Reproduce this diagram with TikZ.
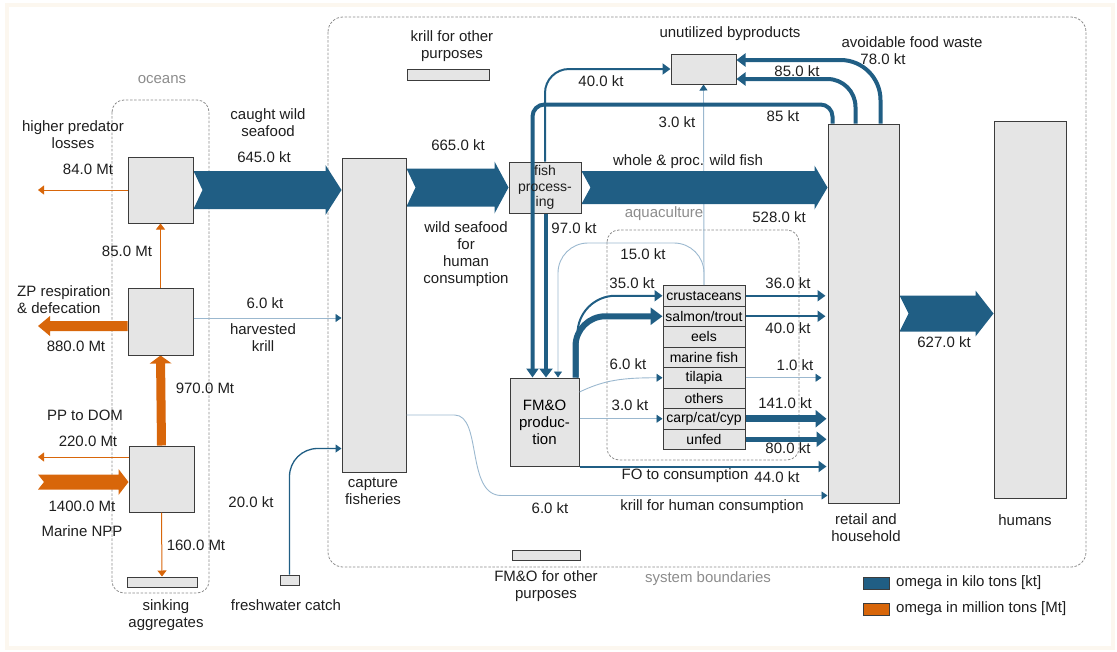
\documentclass[tikz,border=0pt]{standalone}
\usepackage{fontspec}
\setmainfont{Liberation Sans}
\usetikzlibrary{calc,arrows.meta}
\pgfdeclarelayer{bg}
\pgfsetlayers{bg,main}
\definecolor{flowblue}{RGB}{32,94,132}
\definecolor{lightflow}{RGB}{155,184,207}
\definecolor{floworange}{RGB}{216,102,10}
\definecolor{boxfill}{RGB}{229,229,229}
\definecolor{boxline}{RGB}{60,60,60}
\definecolor{dashgray}{RGB}{140,140,140}
\definecolor{txt}{RGB}{30,30,30}
\definecolor{framecream}{RGB}{252,247,239}
\newcommand{\fatflow}[7][flowblue]{%
  \coordinate (fa) at (#2);
  \coordinate (fb) at (#3);
  \coordinate (fh) at ($(fb)!#6!(fa)$);
  \fill[#1] ($(fa)!#4!90:(fb)$) -- ($(fh)!#4!-90:(fa)$) -- ($(fh)!#5!-90:(fa)$) -- (fb)
    -- ($(fh)!#5!90:(fa)$) -- ($(fh)!#4!90:(fa)$) -- ($(fa)!#4!-90:(fb)$) -- ($(fa)!#7!(fb)$) -- cycle;
}
\tikzset{
  boxn/.style={draw=boxline,fill=boxfill,line width=1pt,inner sep=0pt},
  lbl/.style={font=\fontsize{15}{17}\selectfont,align=center,inner sep=0pt,text=txt},
  glbl/.style={lbl,text=dashgray},
  bound/.style={draw=dashgray,line width=0.8pt,dash pattern=on 2.5pt off 1.6pt,rounded corners=12pt},
  othin/.style={draw=floworange,line width=1pt,-{Triangle[length=6pt,width=9pt]}},
  lthin/.style={draw=lightflow,line width=0.9pt,-{Triangle[length=6pt,width=8pt,color=flowblue]}},
  bflow/.style={draw=flowblue,-{Triangle[length=8pt,width=11pt]}}
}
\begin{document}
\begin{tikzpicture}[x=1pt,y=-1pt]
\useasboundingbox (0,0) rectangle (1117,651);
\draw[framecream,line width=4pt] (7,5) rectangle (1113,648);

\node[boxn,minimum width=65,minimum height=66] (hp) at (160.5,190) {};
\node[boxn,minimum width=65,minimum height=67] (zp) at (160.5,321.5) {};
\node[boxn,minimum width=65,minimum height=66] (pp) at (161.5,479) {};
\node[boxn,minimum width=70,minimum height=10] (sink) at (162,582) {};
\node[boxn,minimum width=19,minimum height=10] (fresh) at (289.5,580) {};
\node[boxn,minimum width=64,minimum height=314] (capture) at (374,315) {};
\node[boxn,minimum width=82,minimum height=11] (krillbar) at (448,74.5) {};
\node[boxn,minimum width=72,minimum height=51] (fishproc) at (545,187.5) {};
\node[boxn,minimum width=65,minimum height=30] (unut) at (703.5,69) {};
\node[boxn,minimum width=69,minimum height=88,align=center,font=\fontsize{15}{17}\selectfont] (fmo) at (544.5,422) {FM\&O\\produc-\\tion};
\node[boxn,minimum width=68,minimum height=10] (fmobar) at (546,555) {};
\node[boxn,minimum width=71,minimum height=379] (retail) at (863.5,313.5) {};
\node[boxn,minimum width=72,minimum height=377] (humans) at (1030,309.5) {};
\foreach \t [count=\i] in {crustaceans,salmon/trout,eels,marine fish,tilapia,others,carp/cat/cyp,unfed}{
  \node[boxn,minimum width=82,minimum height=20.5,anchor=north,font=\fontsize{14}{15}\selectfont] (a\i) at (704,{285+(\i-1)*20.5}) {\t};
}

\coordinate (e84) at (38,190);
\coordinate (e880) at (38,326);
\coordinate (e220) at (38,457);
\coordinate (s1400) at (38,482);
\coordinate (kz) at ($(zp.east)+(0,-3.5)$);
\coordinate (kc) at ($(capture.east)+(0,100)$);
\coordinate (kr) at ($(retail.south west)+(0,-8)$);

\begin{pgfonlayer}{bg}
\draw[bound] (112,100) rectangle (209,593);
\draw[bound,rounded corners=15pt] (328,17) rectangle (1086,567);
\draw[bound] (607,230) rectangle (799,460);
\draw[lthin] (a1.north) -- (unut.south);
\fatflow{hp.east}{capture.west |- hp.east}{19pt}{25pt}{16pt}{9pt}
\fatflow{capture.east |- fishproc.west}{fishproc.west}{19pt}{26pt}{14pt}{9pt}
\fatflow{fishproc.east}{retail.west |- fishproc.east}{16.5pt}{22pt}{13pt}{9pt}
\fatflow{retail.east}{humans.west |- retail.east}{18pt}{23pt}{18pt}{9pt}
\fatflow[floworange]{pp.north}{zp.south}{4.5pt}{11pt}{8pt}{0pt}
\fatflow[floworange]{$(zp.west)+(0,4.5)$}{e880}{5pt}{10pt}{12pt}{0pt}
\fatflow[floworange]{s1400}{$(pp.west)+(0,3)$}{7.5pt}{13pt}{10pt}{6pt}
\end{pgfonlayer}

\draw[othin] (hp.west) -- (e84);
\draw[othin] (zp.north) -- (hp.south);
\draw[othin] ($(pp.west)+(0,-22)$) -- (e220);
\draw[othin] (pp.south) -- (sink.north);

\draw[lthin] (kz) -- (capture.west |- kz);
\draw[lthin] (kc) -- ++(48,0) .. controls +(28,0) and ($(kr)+(-362,0)$) .. ($(kr)+(-326,0)$) -- (kr);
\draw[flowblue,line width=1.3pt,rounded corners=28pt,-{Triangle[length=6pt,width=8pt]}] (fresh.north) |- ($(capture.south west)+(0,-24)$);
\draw[lthin,rounded corners=30pt] (a1.north) -- ++(0,-42) -| ($(fmo.north)+(13.5,0)$);
\draw[lthin] ($(fmo.east)+(0,-30)$) .. controls +(25,-12) and +(-40,0) .. (a5.west);
\draw[lthin] (fmo.east |- a7.west) -- (a7.west);
\draw[lthin,shorten >=6pt] (a5.east) -- (retail.west |- a5.east);

\draw[bflow,line width=4pt,rounded corners=12pt,-{Triangle[length=9pt,width=12pt]}] ($(retail.north west)+(5,0)$) -- ++(0,-19) -| ($(fmo.north west)+(23,0)$);
\draw[bflow,line width=2pt,rounded corners=24pt] (fishproc.north) |- (unut.west);
\draw[bflow,line width=4.5pt,-{Triangle[length=9pt,width=13pt]}] ($(fishproc.south)+(1,0)$) -- ($(fmo.north)+(1.5,0)$);
\draw[bflow,line width=4pt,rounded corners=28pt,-{Triangle[length=9pt,width=13pt]}] ($(retail.north west)+(28,0)$) |- ($(unut.east)+(0,10)$);
\draw[bflow,line width=4pt,rounded corners=40pt,-{Triangle[length=9pt,width=13pt]}] ($(retail.north west)+(53,0)$) |- ($(unut.east)+(0,-9)$);
\draw[bflow,line width=2pt,rounded corners=38pt] ($(fmo.north east)+(-2,0)$) |- (a1.west);
\draw[bflow,line width=6pt,rounded corners=30pt,-{Triangle[length=12pt,width=17pt]}] ($(fmo.north east)+(-4,0)$) |- (a2.west);
\draw[bflow,line width=2pt,shorten >=2pt] (a1.east) -- (retail.west |- a1.east);
\draw[bflow,line width=2pt,shorten >=2pt] (a2.east) -- (retail.west |- a2.east);
\draw[bflow,line width=7pt,shorten >=1pt,-{Triangle[length=11pt,width=17pt]}] (a7.east) -- (retail.west |- a7.east);
\draw[bflow,line width=5pt,shorten >=1pt,-{Triangle[length=10pt,width=15pt]}] (a8.east) -- (retail.west |- a8.east);
\draw[bflow,line width=2pt,shorten >=1pt] (fmo.south east) -- (retail.west |- fmo.south east);

\node[lbl,font=\fontsize{14}{15.5}\selectfont] (lfish) at (fishproc.center) {fish\\process-\\ing};
\node[glbl] (loceans) at (162,80) {oceans};
\node[lbl] (lhpl) at (73,135) {higher predator\\losses};
\node[lbl] (l84) at (88,169) {84.0 Mt};
\node[lbl] (lcaught) at (268,123) {caught wild\\seafood};
\node[lbl] (l645) at (264,157) {645.0 kt};
\node[lbl] (l85mt) at (127,251) {85.0 Mt};
\node[lbl,anchor=west,align=left] (lzp) at (17,300) {ZP respiration\\\& defecation};
\node[lbl] (l880) at (76,346) {880.0 Mt};
\node[lbl] (l6krill) at (265,303) {6.0 kt};
\node[lbl] (lharv) at (263,338) {harvested\\krill};
\node[lbl] (l970) at (205,388) {970.0 Mt};
\node[lbl] (lppdom) at (85,415) {PP to DOM};
\node[lbl] (l220) at (88,441) {220.0 Mt};
\node[lbl] (l1400) at (82,506) {1400.0 Mt};
\node[lbl] (lnpp) at (82,531) {Marine NPP};
\node[lbl] (l160) at (196,545) {160.0 Mt};
\node[lbl] (lsink) at (166,615) {sinking\\aggregates};
\node[lbl] (l20) at (251,502) {20.0 kt};
\node[lbl] (lfresh) at (286,605) {freshwater catch};
\node[lbl] (lcapture) at (373,491) {capture\\fisheries};
\node[lbl] (lkrillo) at (452,46) {krill for other\\purposes};
\node[lbl] (l665) at (458,145) {665.0 kt};
\node[lbl] (lwild) at (466,254) {wild seafood\\for\\human\\consumption};
\node[lbl] (l97) at (574,228) {97.0 kt};
\node[lbl] (l40a) at (601,81) {40.0 kt};
\node[lbl] (l3a) at (677,122) {3.0 kt};
\node[lbl] (lunut) at (730,34) {unutilized byproducts};
\node[lbl] (lavoid) at (912,42) {avoidable food waste};
\node[lbl] (l78) at (883,59) {78.0 kt};
\node[lbl] (l85a) at (797,71) {85.0 kt};
\node[lbl] (l85b) at (783,116) {85 kt};
\node[lbl] (lwhole) at (688,162) {whole \& proc. wild fish};
\node[lbl] (l528) at (779,217) {528.0 kt};
\node[glbl] (laqua) at (664,214) {aquaculture};
\node[lbl] (l15) at (643,254) {15.0 kt};
\node[lbl] (l35) at (632,283) {35.0 kt};
\node[lbl] (l36) at (788,283) {36.0 kt};
\node[lbl] (l40b) at (788,328) {40.0 kt};
\node[lbl] (l6b) at (628,364) {6.0 kt};
\node[lbl] (l1) at (795,365) {1.0 kt};
\node[lbl] (l3b) at (630,405) {3.0 kt};
\node[lbl] (l141) at (785,403) {141.0 kt};
\node[lbl] (l80) at (788,448) {80.0 kt};
\node[lbl] (lfo) at (685,476) {FO to consumption};
\node[lbl] (l44) at (777,477) {44.0 kt};
\node[lbl] (lkrillh) at (712,507) {krill for human consumption};
\node[lbl] (l6c) at (550,508) {6.0 kt};
\node[lbl] (l627) at (944,342) {627.0 kt};
\node[lbl] (lretail) at (866,528) {retail and\\household};
\node[lbl] (lhumans) at (1025,520) {humans};
\node[lbl] (lfmoo) at (546,586) {FM\&O for other\\purposes};
\node[glbl] (lsys) at (708,579) {system boundaries};
\node[boxn,fill=flowblue,minimum width=26,minimum height=12] (legkt) at (876,583) {};
\node[lbl,anchor=west] (legkttext) at (896,583) {omega in kilo tons [kt]};
\node[boxn,fill=floworange,minimum width=26,minimum height=12] (legmt) at (876,609) {};
\node[lbl,anchor=west] (legmttext) at (896,609) {omega in million tons [Mt]};
\end{tikzpicture}
\end{document}
